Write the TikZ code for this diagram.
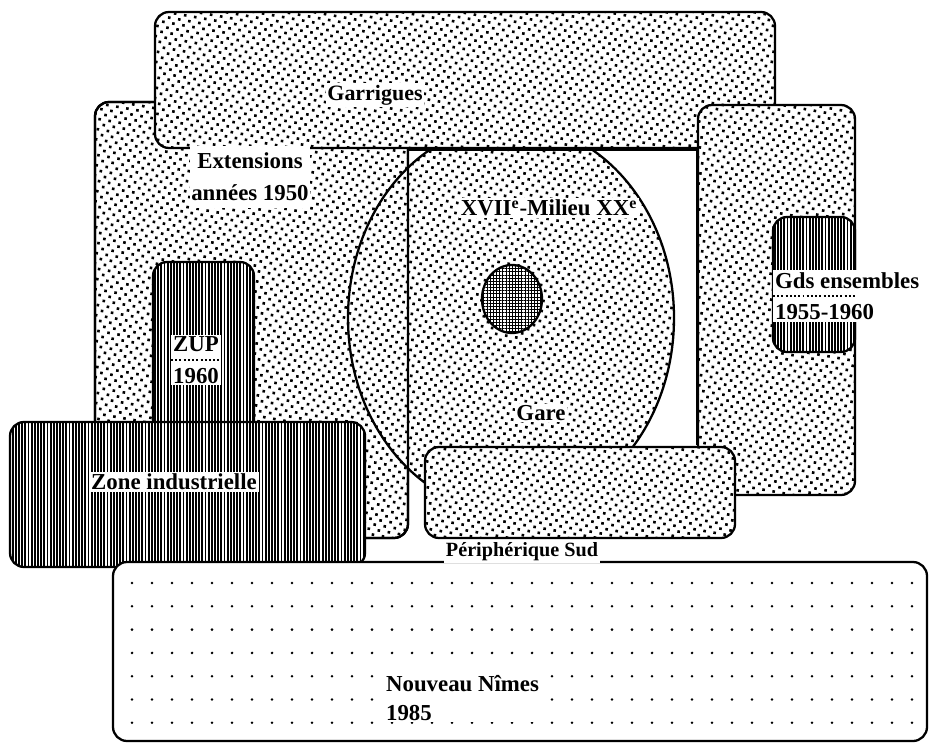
\documentclass[tikz,border=0pt]{standalone}
\usepackage{fontspec}
\setmainfont{Liberation Serif}
\usetikzlibrary{patterns.meta}

\begin{document}
\begin{tikzpicture}[x=0.02cm, y=-0.02cm, font=\fontsize{13}{18}\selectfont\bfseries,
  plan/.style={draw, line width=1.3pt, rounded corners=8pt, preaction={fill=white}},
  stipple/.style={plan, pattern={Dots[distance=4.1pt, angle=35, radius=1.05pt]}},
  hatched/.style={plan, pattern={Lines[angle=90, distance=1.8pt, line width=1.05pt]}},
  outline/.style={draw, line width=1.3pt},
  lbl/.style={fill=white, inner sep=1pt, align=center},
  small/.style={font=\fontsize{11.5}{14}\selectfont\bfseries},
  dotsep/.style={line width=1.1pt, dash pattern=on 1.1pt off 1.3pt}]
\fill[white] (0,0) rectangle (929,743);
\useasboundingbox (0,0) rectangle (929,743);
% lower layer: extensions and the centre
\draw[stipple] (95,102) rectangle (408,538);
\fill[white] (408,150) rectangle (697,445);
\draw[stipple, rounded corners=0pt] (511,318) ellipse [x radius=163, y radius=194];
\draw[outline, rounded corners=8pt] (95,102) rectangle (408,538);
\draw[outline] (408,445) -- (408,150) -- (697,150) -- (697,445);
\draw[outline, preaction={fill=white}, pattern={Hatch[distance=1.8pt, line width=0.5pt]}]
  (512,299) ellipse [x radius=30, y radius=34];
% outer zones
\draw[stipple] (155,12) rectangle (775,148);
\draw[stipple] (698,105) rectangle (855,495);
\draw[hatched] (773,217) rectangle (855,352);
\draw[hatched] (153,262) rectangle (254,440);
\draw[hatched] (10,422) rectangle (365,567);
\draw[stipple] (425,447) rectangle (735,538);
\draw[plan] (113,562) rectangle (927,741);
\foreach \r in {0,...,6}
  \foreach \c in {0,...,39}
    \fill (132+20*\c, 583+23.3*\r) circle (0.8pt);
% labels
\node[lbl, font=\fontsize{12.5}{14}\selectfont\bfseries] (garr) at (375,95) {Garrigues};
\node[lbl, inner ysep=4pt] (ext) at (250,177) {Extensions\\années 1950};
\node[lbl] (centre) at (549,208) {XVII\textsuperscript{e}-Milieu XX\textsuperscript{e}};
\node[lbl] (gare) at (541,413) {Gare};
\node[lbl, align=left, anchor=west] (gds) at (773,296) {Gds ensembles\\1955-1960};
\draw[dotsep] (gds.west) -- ++(82,0);
\node[lbl] (zup) at (196,360) {ZUP\\1960};
\draw[dotsep] (zup.west) -- (zup.east);
\node[lbl] (zi) at (174,482) {Zone industrielle};
\node[lbl, small] (peri) at (522,552) {Périphérique Sud};
\node[lbl, align=left, anchor=west, font=\fontsize{13}{16}\selectfont\bfseries] (nn) at (384,698) {Nouveau Nîmes\\1985};
\end{tikzpicture}
\end{document}
